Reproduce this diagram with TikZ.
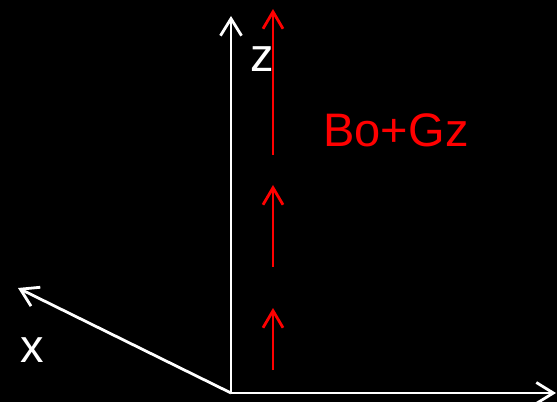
\documentclass[tikz,border=0pt]{standalone}
\usepackage{fontspec}
\setmainfont{Liberation Sans}
\usetikzlibrary{arrows.meta}
\begin{document}
\begin{tikzpicture}[x=1pt,y=1pt,
  axis/.style={draw=white,line width=2.8pt,-{Straight Barb[length=17pt,width=21pt]}},
  field/.style={draw=red,line width=2.8pt,-{Straight Barb[length=17pt,width=20pt]}},
  lbl/.style={anchor=base,font=\fontsize{47}{47}\selectfont,inner sep=0pt}]
\fill[black] (0,0) rectangle (557,402);
\useasboundingbox (0,0) rectangle (557,402);
\coordinate (o) at (231,9);
\coordinate (zt) at (231,386);
\coordinate (yt) at (556,9);
\coordinate (xt) at (18,114);
\draw[axis] (o) -- (zt);
\draw[axis] (o) -- (yt);
\draw[axis] (o) -- (xt);
\coordinate (a1s) at (273,32);
\coordinate (a1e) at (273,94);
\coordinate (a2s) at (273,135);
\coordinate (a2e) at (273,217);
\coordinate (a3s) at (273,247);
\coordinate (a3e) at (273,393);
\draw[field] (a1s) -- (a1e);
\draw[field] (a2s) -- (a2e);
\draw[field] (a3s) -- (a3e);
\node[lbl,text=white] (zl) at (262,330) {z};
\node[lbl,text=white] (xl) at (32.5,40) {x};
\node[lbl,text=red] (bl) at (396,255) {Bo+Gz};
\end{tikzpicture}
\end{document}
